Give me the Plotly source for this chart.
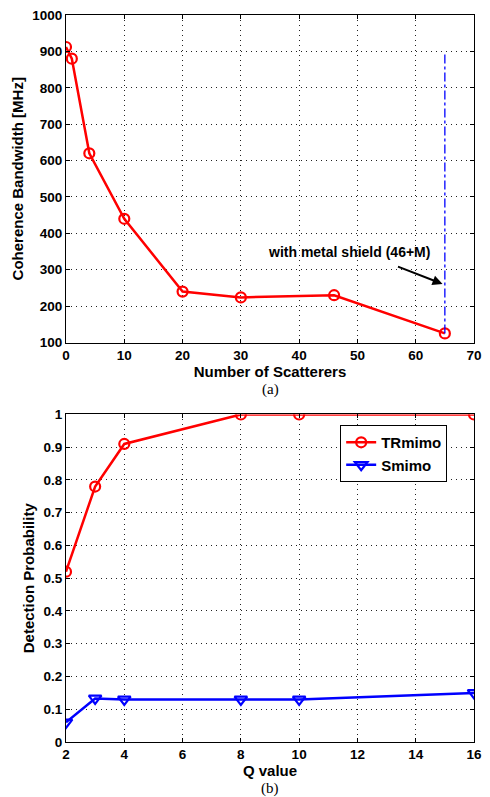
import plotly.graph_objects as go

# (a) coherence bandwidth
scatterers = [0, 1, 4, 10, 20, 30, 46, 65]
bandwidth = [912, 880, 620, 440, 240, 224, 230, 125]
shield_x = [65, 65]
shield_y = [125, 900]

# (b) detection probability
q_values = [2, 3, 4, 8, 10, 16]
tr_mimo = [0.52, 0.78, 0.91, 1.0, 1.0, 1.0]
s_mimo = [0.06, 0.133, 0.13, 0.13, 0.13, 0.15]

top_ticks = [100, 200, 300, 400, 500, 600, 700, 800, 900, 1000]
bot_yticks = [0, 0.1, 0.2, 0.3, 0.4, 0.5, 0.6, 0.7, 0.8, 0.9, 1]
bot_ylabels = ["0", "0.1", "0.2", "0.3", "0.4", "0.5", "0.6", "0.7", "0.8", "0.9", "1"]

FONT = "Liberation Sans"
tickfont = dict(family=FONT, size=13.5, color="black", weight="bold")
titlefont = dict(family=FONT, size=15, color="black", weight="bold")

fig = go.Figure()
fig.add_trace(go.Scatter(x=scatterers, y=bandwidth, mode="lines+markers",
                         line=dict(color="#ff0000", width=2.5),
                         marker=dict(symbol="circle-open", size=10, color="#ff0000", line=dict(width=2.2)),
                         showlegend=False, xaxis="x", yaxis="y"))
fig.add_trace(go.Scatter(x=shield_x, y=shield_y, mode="lines",
                         line=dict(color="#0000ff", width=1.3, dash="dashdot"),
                         showlegend=False, xaxis="x", yaxis="y"))
fig.add_trace(go.Scatter(x=q_values, y=tr_mimo, mode="lines+markers", name="TRmimo",
                         line=dict(color="#ff0000", width=2.5),
                         marker=dict(symbol="circle-open", size=10, color="#ff0000", line=dict(width=2.2)),
                         xaxis="x2", yaxis="y2"))
fig.add_trace(go.Scatter(x=q_values, y=s_mimo, mode="lines+markers", name="Smimo",
                         line=dict(color="#0000ff", width=2.5),
                         marker=dict(symbol="triangle-down-open", size=11, color="#0000ff", line=dict(width=2.2)),
                         xaxis="x2", yaxis="y2"))

axcommon = dict(showline=True, linecolor="black", linewidth=1, mirror="ticks",
                ticks="inside", ticklen=4, tickcolor="black",
                showgrid=True, gridcolor="#222222", griddash="1px,4px", gridwidth=1.2,
                zeroline=False, tickfont=tickfont)

fig.update_layout(
    width=490, height=797,
    margin=dict(l=66, r=8, t=14, b=55),
    paper_bgcolor="white", plot_bgcolor="white",
    xaxis=dict(domain=[0, 1], anchor="y", range=[0, 70], tickvals=[0, 10, 20, 30, 40, 50, 60, 70],
               title=dict(text="Number of Scatterers", font=titlefont, standoff=0),
               **axcommon),
    yaxis=dict(domain=[0.5495, 1], anchor="x", range=[100, 1000], tickvals=top_ticks,
               title=dict(text="Coherence Bandwidth [MHz]", font=titlefont, standoff=4),
               **axcommon),
    xaxis2=dict(domain=[0, 1], anchor="y2", range=[2, 16], tickvals=[2, 4, 6, 8, 10, 12, 14, 16],
                title=dict(text="Q value", font=titlefont, standoff=0),
                **axcommon),
    yaxis2=dict(domain=[0, 0.4505], anchor="x2", range=[0, 1], tickvals=bot_yticks, ticktext=bot_ylabels,
                title=dict(text="Detection Probability", font=titlefont, standoff=5),
                **axcommon),
    legend=dict(x=0.672, y=0.436, xanchor="left", yanchor="top", bgcolor="white",
                bordercolor="black", borderwidth=1,
                font=dict(family=FONT, size=15, color="black", weight="bold"),
                tracegroupgap=0, itemwidth=30),
    font=dict(family=FONT, size=13, color="black"),
)

fig.add_annotation(x=64.6, y=261, ax=56.7, ay=310, xref="x", yref="y", axref="x", ayref="y",
                   showarrow=True, arrowhead=2, arrowsize=1, arrowwidth=2, arrowcolor="black", text="")
fig.add_annotation(x=48.6, y=320, xref="x", yref="y", text="with metal shield (46+M)", showarrow=False,
                   xanchor="center", yanchor="bottom",
                   font=dict(family=FONT, size=14, color="black", weight="bold"))
fig.add_annotation(x=0.5, y=(742 - 389) / 728, xref="paper", yref="paper", text="(a)", showarrow=False,
                   xanchor="center", yanchor="middle",
                   font=dict(family="Liberation Serif", size=15, color="black"))
fig.add_annotation(x=0.5, y=(742 - 789) / 728, xref="paper", yref="paper", text="(b)", showarrow=False,
                   xanchor="center", yanchor="middle",
                   font=dict(family="Liberation Serif", size=15, color="black"))

fig.write_html("out.html", config={"displayModeBar": False},
               post_script="document.body.style.margin='0px';")
